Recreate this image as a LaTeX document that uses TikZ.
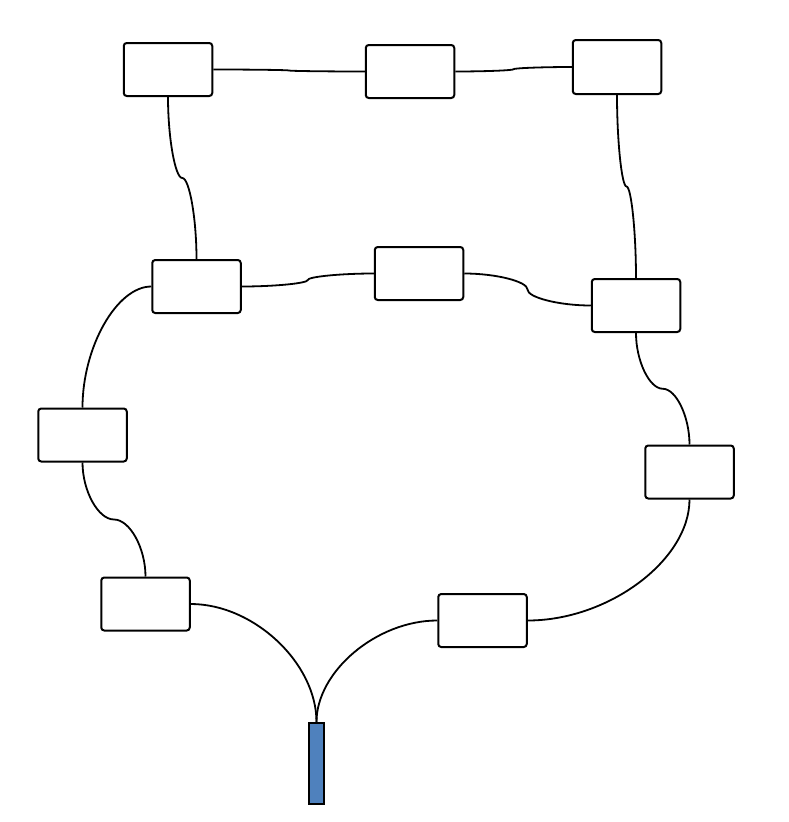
\documentclass[tikz,border=0pt]{standalone}
\usetikzlibrary{calc}
\definecolor{barblue}{HTML}{4F81BD}
\tikzset{
  box/.style={draw=black, fill=white, line width=2pt, rounded corners=3pt,
    minimum width=88.5pt, minimum height=53pt, inner sep=0pt},
  bar/.style={draw=black, fill=barblue, line width=2pt,
    minimum width=15pt, minimum height=81pt, inner sep=0pt},
  conn/.style={draw=black, line width=1.8pt},
  vS/.style={to path={let \p1=(\tikztostart), \p2=(\tikztotarget), \p3=($(\p1)!0.5!(\p2)$) in
    .. controls ($(\p1)!0.5!(\x1,\y3)$) and ($(\p3)!0.5!(\x1,\y3)$) .. (\p3)
    .. controls ($(\p3)!0.5!(\x2,\y3)$) and ($(\p2)!0.5!(\x2,\y3)$) .. (\p2)}},
  hS/.style={to path={let \p1=(\tikztostart), \p2=(\tikztotarget), \p3=($(\p1)!0.5!(\p2)$) in
    .. controls ($(\p1)!0.5!(\x3,\y1)$) and ($(\p3)!0.5!(\x3,\y1)$) .. (\p3)
    .. controls ($(\p3)!0.5!(\x3,\y2)$) and ($(\p2)!0.5!(\x3,\y2)$) .. (\p2)}},
  hv/.style={to path={let \p1=(\tikztostart), \p2=(\tikztotarget) in
    .. controls ($(\p1)!0.5!(\x2,\y1)$) and ($(\p2)!0.5!(\x2,\y1)$) .. (\p2)}},
  vh/.style={to path={let \p1=(\tikztostart), \p2=(\tikztotarget) in
    .. controls ($(\p1)!0.5!(\x1,\y2)$) and ($(\p2)!0.5!(\x1,\y2)$) .. (\p2)}},
}
\begin{document}
\begin{tikzpicture}[x=1pt, y=-1pt]
\useasboundingbox (0,0) rectangle (788,822);
\node[box] (b1) at (168,69.5) {};
\node[box] (b2) at (410,71.5) {};
\node[box, minimum height=54pt] (b3) at (617,67) {};
\node[box] (b4) at (196.5,286.5) {};
\node[box] (b5) at (419,273.5) {};
\node[box] (b6) at (636,305.5) {};
\node[box] (b7) at (82.5,435) {};
\node[box] (b8) at (689.5,472) {};
\node[box] (b9) at (145.5,604) {};
\node[box] (b10) at (482.5,620.5) {};
\node[bar] (bar) at (316.5,763.5) {};

\draw[conn] (b1.east) to[hS] (b2.west);
\draw[conn] (b2.east) to[hS] (b3.west);
\draw[conn] (b4.east) to[hS] (b5.west);
\draw[conn] (b5.east) to[hS] (b6.west);
\draw[conn] (b1.south) to[vS] (b4.north);
\draw[conn] (b3.south) to[vS] (b6.north);
\draw[conn] (b6.south) to[vS] (b8.north);
\draw[conn] (b7.south) to[vS] (b9.north);
\draw[conn] (b4.west) to[hv] (b7.north);
\draw[conn] (b9.east) to[hv] (bar.north);
\draw[conn] (b10.west) to[hv] (bar.north);
\draw[conn] (b8.south) to[vh] (b10.east);
\end{tikzpicture}
\end{document}
